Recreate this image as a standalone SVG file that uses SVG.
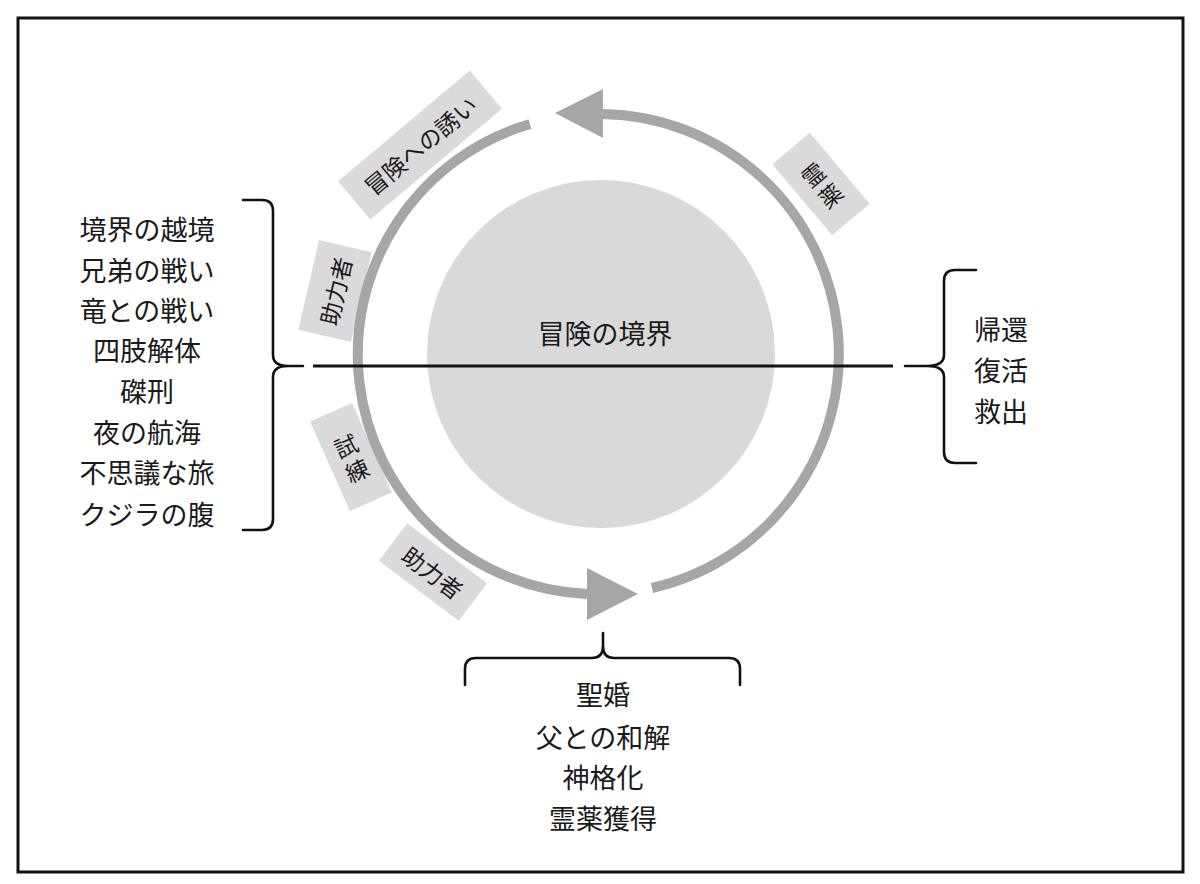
<svg xmlns="http://www.w3.org/2000/svg" width="1200" height="884" viewBox="0 0 1200 884">
<style>
.t{font-family:"Noto Sans CJK JP","Noto Sans CJK SC",sans-serif;font-size:27px;fill:#1a1a1a;text-anchor:middle;dominant-baseline:central}
.lt{font-family:"Noto Sans CJK JP","Noto Sans CJK SC",sans-serif;font-size:23px;fill:#1a1a1a;text-anchor:middle;dominant-baseline:central}
.box{fill:#dadada}
.ring{fill:none;stroke:#a6a6a6;stroke-width:10}
.brace{fill:none;stroke:#111;stroke-width:2.6;stroke-linecap:round}
</style>
<rect x="0" y="0" width="1200" height="884" fill="#fff"/>
<rect x="18" y="18" width="1165" height="854" fill="none" stroke="#111" stroke-width="3"/>

<g id="boundary">
<circle cx="601" cy="354" r="174" fill="#d9d9d9"/>
<text class="t" x="605" y="332">冒険の境界</text>
</g>

<g id="label-call">
<g transform="translate(420,145) rotate(-40)">
<rect class="box" x="-86" y="-25" width="172" height="50"/>
<text class="lt" x="0" y="0">冒険への誘い</text>
</g>
</g>
<g id="label-elixir">
<g transform="translate(821,184) rotate(-40)">
<rect class="box" x="-24.5" y="-46.5" width="49" height="93"/>
<text class="lt" x="0" y="-13">霊</text>
<text class="lt" x="0" y="14">薬</text>
</g>
</g>
<g id="label-helper1">
<g transform="translate(335,291) rotate(-77)">
<rect class="box" x="-46" y="-27" width="92" height="54"/>
<text class="lt" x="0" y="0">助力者</text>
</g>
</g>
<g id="label-trial">
<g transform="translate(351,457) rotate(-24)">
<rect class="box" x="-23" y="-49" width="46" height="98"/>
<text class="lt" x="0" y="-13">試</text>
<text class="lt" x="0" y="14">練</text>
</g>
</g>
<g id="label-helper2">
<g transform="translate(433,572) rotate(37)">
<rect class="box" x="-50" y="-23.5" width="100" height="47"/>
<text class="lt" x="0" y="0">助力者</text>
</g>
</g>

<g id="connectors">
<path class="ring" d="M 603 114 A 240 240 0 0 1 652 588"/>
<polygon points="555,113 603,89 603,138" fill="#a6a6a6"/>
<path class="ring" d="M 530 124 A 240 240 0 0 0 587 594"/>
<polygon points="638,594 587,568 587,620" fill="#a6a6a6"/>
<line x1="313" y1="366" x2="893" y2="366" stroke="#111" stroke-width="3"/>
<path class="brace" d="M 243 200 L 262 200 Q 273 200 273 211 L 273 355 Q 273 366 288 366 L 303 366 M 288 366 Q 273 366 273 377 L 273 519 Q 273 530 262 530 L 243 530"/>
<path class="brace" d="M 976 270 L 955 270 Q 944 270 944 281 L 944 355 Q 944 366 927 366 L 905 366 M 927 366 Q 944 366 944 377 L 944 452 Q 944 463 955 463 L 976 463"/>
<path class="brace" d="M 465 685 L 465 669 Q 465 658 476 658 L 592 658 Q 603 658 603 646 L 603 633 M 603 646 Q 603 658 614 658 L 729 658 Q 740 658 740 669 L 740 685"/>
</g>

<g id="left-list">
<text class="t" x="147" y="228">境界の越境</text>
<text class="t" x="147" y="269">兄弟の戦い</text>
<text class="t" x="147" y="309">竜との戦い</text>
<text class="t" x="147" y="349">四肢解体</text>
<text class="t" x="147" y="390">磔刑</text>
<text class="t" x="147" y="431">夜の航海</text>
<text class="t" x="147" y="471">不思議な旅</text>
<text class="t" x="147" y="513">クジラの腹</text>
</g>
<g id="right-list">
<text class="t" x="1001" y="328">帰還</text>
<text class="t" x="1001" y="369">復活</text>
<text class="t" x="1001" y="410">救出</text>
</g>
<g id="bottom-list">
<text class="t" x="603" y="693">聖婚</text>
<text class="t" x="603" y="736">父との和解</text>
<text class="t" x="603" y="776">神格化</text>
<text class="t" x="603" y="817">霊薬獲得</text>
</g>
</svg>
